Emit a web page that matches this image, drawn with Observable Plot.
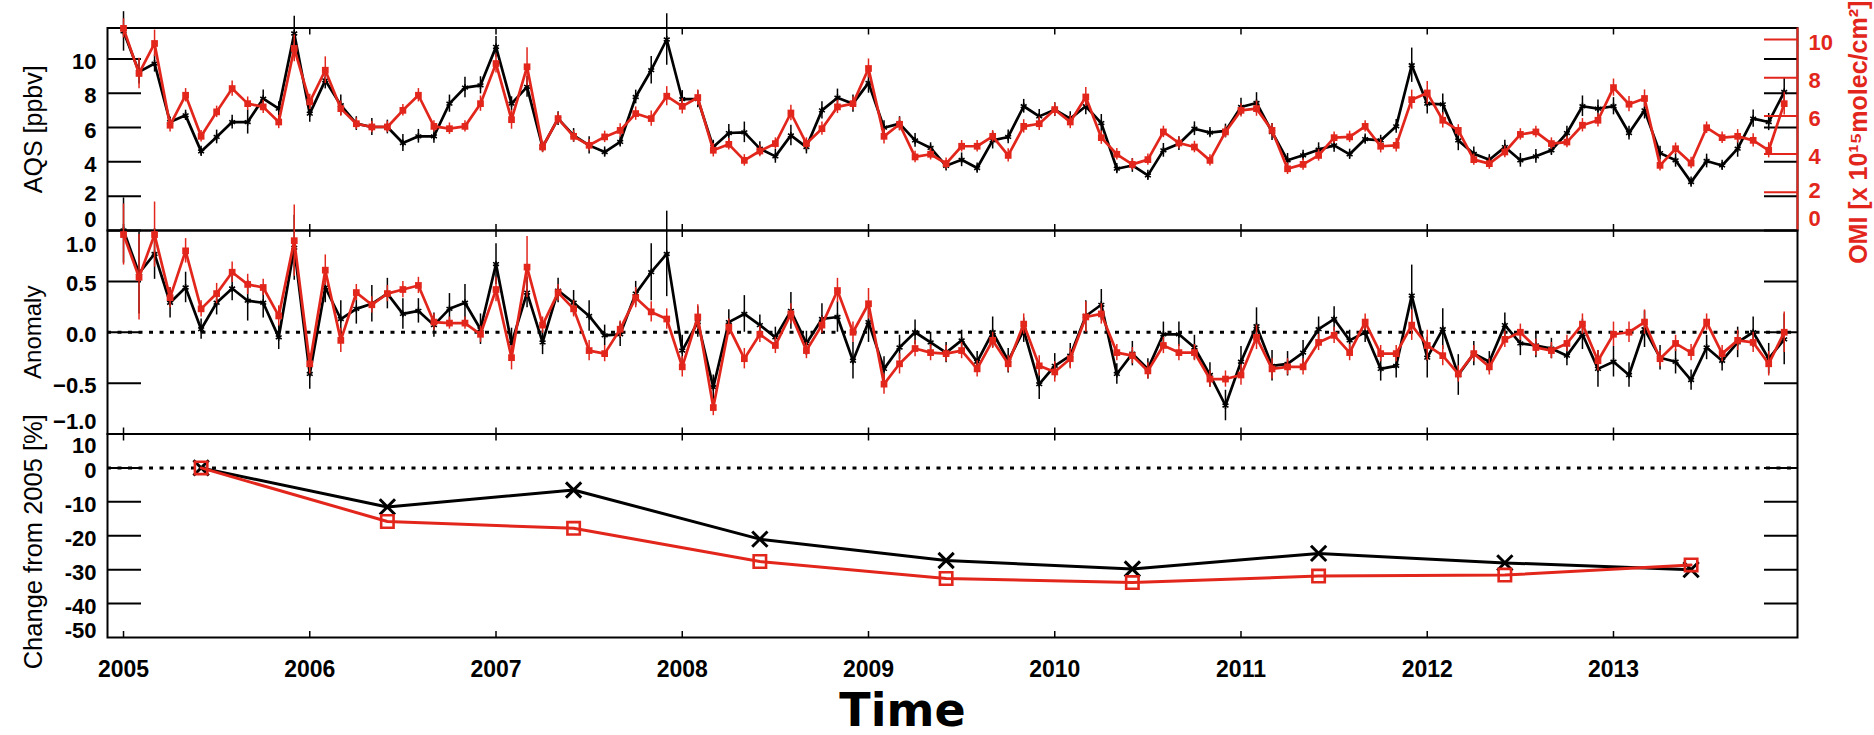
<!DOCTYPE html>
<html><head><meta charset="utf-8">
<script src="https://cdn.jsdelivr.net/npm/d3@7"></script>
<script src="https://cdn.jsdelivr.net/npm/@observablehq/plot@0.6"></script>
<style>
body{margin:0;background:#fff;}
#wrap{position:relative;width:1874px;height:735px;overflow:hidden;background:#fff;}
#wrap svg{position:absolute;left:0;top:0;}
</style></head><body><div id="wrap"></div>
<script>
// ---------- data ----------
const startYear = 2005;
const years = [2005, 2006, 2007, 2008, 2009, 2010, 2011, 2012, 2013];

// monthly AQS NO2 [ppbv] (black) and OMI column [1e15 molec/cm2] (red), Jan 2005 .. Dec 2013
const aqs = [11.6, 9.24, 9.73, 6.32, 6.71, 4.61, 5.45, 6.32, 6.32, 7.68, 7.10, 11.48,
 6.81, 8.75, 7.30, 6.23, 6.03, 6.03, 5.10, 5.49, 5.49, 7.39, 8.33, 8.46,
 10.70, 7.39, 8.37, 4.86, 6.52, 5.54, 4.96, 4.57, 5.16, 7.78, 9.34, 11.13,
 7.65, 7.65, 4.86, 5.68, 5.72, 4.77, 4.32, 5.54, 4.86, 7.00, 7.74, 7.39,
 8.60, 5.99, 6.23, 5.25, 4.81, 3.77, 4.12, 3.64, 5.25, 5.45, 7.24, 6.65,
 7.04, 6.52, 7.24, 6.26, 3.60, 3.79, 3.21, 4.67, 5.06, 5.93, 5.70, 5.80,
 7.20, 7.43, 5.74, 4.09, 4.38, 4.71, 4.96, 4.44, 5.33, 5.25, 6.07, 9.63,
 7.39, 7.35, 5.25, 4.47, 4.12, 4.86, 4.09, 4.32, 4.67, 5.68, 7.24, 7.10,
 7.24, 5.68, 7.00, 4.51, 4.09, 2.82, 4.05, 3.79, 4.77, 6.52, 6.32, 8.07];
const aqsErr = [1.15, 0.7, 0.5, 0.3, 0.3, 0.3, 0.4, 0.4, 0.7, 0.5, 0.4, 1.0,
 0.5, 0.5, 0.6, 0.4, 0.5, 0.4, 0.5, 0.4, 0.4, 0.5, 0.6, 0.5,
 0.6, 0.4, 0.6, 0.3, 0.4, 0.4, 0.5, 0.3, 0.3, 0.4, 0.8, 1.5,
 0.5, 0.5, 0.4, 0.5, 0.6, 0.4, 0.4, 0.6, 0.4, 0.5, 0.5, 0.5,
 0.6, 0.4, 0.4, 0.4, 0.3, 0.3, 0.4, 0.3, 0.5, 0.4, 0.4, 0.4,
 0.4, 0.4, 0.5, 0.5, 0.3, 0.4, 0.3, 0.4, 0.4, 0.4, 0.3, 0.4,
 0.5, 0.6, 0.5, 0.4, 0.3, 0.4, 0.4, 0.3, 0.3, 0.3, 0.4, 1.0,
 0.6, 0.6, 0.6, 0.4, 0.3, 0.4, 0.4, 0.4, 0.3, 0.4, 0.6, 0.5,
 0.5, 0.4, 0.5, 0.4, 0.4, 0.3, 0.4, 0.3, 0.5, 0.5, 0.5, 0.8];
const omi = [10.58, 8.22, 9.79, 5.51, 7.08, 4.93, 6.21, 7.43, 6.64, 6.47, 5.68, 9.53,
 6.73, 8.39, 6.38, 5.59, 5.42, 5.42, 6.29, 7.08, 5.45, 5.33, 5.45, 6.64,
 8.74, 5.80, 8.57, 4.37, 5.86, 4.93, 4.46, 4.90, 5.24, 6.12, 5.86, 7.03,
 6.50, 6.96, 4.20, 4.51, 3.67, 4.16, 4.55, 6.15, 4.55, 5.33, 6.47, 6.64,
 8.48, 4.93, 5.56, 3.85, 3.99, 3.50, 4.41, 4.41, 4.93, 3.93, 5.45, 5.59,
 6.33, 5.68, 6.99, 4.86, 3.99, 3.46, 3.71, 5.16, 4.58, 4.37, 3.67, 5.16,
 6.29, 6.38, 5.24, 3.23, 3.46, 3.93, 4.86, 4.90, 5.45, 4.41, 4.46, 6.85,
 7.20, 5.77, 5.24, 3.71, 3.50, 4.11, 5.03, 5.16, 4.55, 4.63, 5.51, 5.77,
 7.48, 6.61, 6.91, 3.41, 4.28, 3.53, 5.38, 4.86, 4.93, 4.72, 4.20, 6.64];
const omiErr = [0.5, 0.8, 0.7, 0.35, 0.35, 0.3, 0.3, 0.4, 0.35, 0.35, 0.35, 0.7,
 0.4, 0.7, 0.4, 0.3, 0.3, 0.3, 0.3, 0.35, 0.3, 0.3, 0.3, 0.4,
 0.5, 0.5, 1.0, 0.3, 0.3, 0.3, 0.3, 0.3, 0.35, 0.35, 0.4, 0.5,
 0.4, 0.4, 0.35, 0.3, 0.3, 0.3, 0.3, 0.4, 0.3, 0.35, 0.35, 0.35,
 0.5, 0.4, 0.35, 0.3, 0.3, 0.3, 0.3, 0.3, 0.3, 0.35, 0.35, 0.35,
 0.35, 0.35, 0.5, 0.35, 0.3, 0.3, 0.3, 0.3, 0.3, 0.3, 0.3, 0.3,
 0.35, 0.4, 0.35, 0.3, 0.3, 0.3, 0.3, 0.3, 0.3, 0.35, 0.35, 0.5,
 0.6, 0.4, 0.3, 0.3, 0.3, 0.3, 0.3, 0.3, 0.3, 0.3, 0.35, 0.35,
 0.45, 0.4, 0.45, 0.3, 0.3, 0.3, 0.3, 0.3, 0.35, 0.35, 0.4, 0.6];

// monthly anomalies
const aqsAnom = [1.00, 0.58, 0.77, 0.29, 0.44, 0.03, 0.29, 0.43, 0.31, 0.29, -0.05, 0.83,
 -0.41, 0.44, 0.13, 0.23, 0.28, 0.38, 0.18, 0.21, 0.07, 0.23, 0.29, 0.03,
 0.67, -0.11, 0.39, -0.10, 0.41, 0.29, 0.16, -0.03, -0.02, 0.38, 0.59, 0.77,
 -0.18, 0.10, -0.54, 0.10, 0.18, 0.07, -0.05, 0.21, -0.11, 0.13, 0.15, -0.28,
 0.10, -0.36, -0.15, 0.00, -0.10, -0.20, -0.08, -0.29, 0.00, -0.28, 0.02, -0.51,
 -0.33, -0.23, 0.16, 0.27, -0.41, -0.21, -0.36, -0.02, -0.02, -0.15, -0.42, -0.72,
 -0.29, 0.06, -0.33, -0.31, -0.20, 0.03, 0.13, -0.08, 0.00, -0.36, -0.33, 0.36,
 -0.25, 0.03, -0.42, -0.21, -0.29, 0.07, -0.11, -0.13, -0.16, -0.23, -0.02, -0.36,
 -0.29, -0.42, 0.03, -0.25, -0.29, -0.47, -0.15, -0.28, -0.10, 0.00, -0.26, -0.07];
const aqsAnomErr = [0.32, 0.4, 0.25, 0.15, 0.15, 0.1, 0.12, 0.12, 0.2, 0.15, 0.12, 0.32,
 0.15, 0.15, 0.18, 0.15, 0.18, 0.15, 0.15, 0.12, 0.12, 0.15, 0.18, 0.15,
 0.2, 0.15, 0.15, 0.12, 0.12, 0.12, 0.15, 0.1, 0.12, 0.12, 0.28, 0.42,
 0.15, 0.15, 0.12, 0.12, 0.18, 0.1, 0.1, 0.18, 0.12, 0.15, 0.15, 0.18,
 0.2, 0.12, 0.12, 0.12, 0.1, 0.1, 0.1, 0.1, 0.15, 0.12, 0.12, 0.15,
 0.12, 0.12, 0.15, 0.15, 0.1, 0.12, 0.1, 0.12, 0.12, 0.12, 0.12, 0.15,
 0.15, 0.18, 0.15, 0.12, 0.12, 0.12, 0.12, 0.1, 0.1, 0.12, 0.12, 0.3,
 0.2, 0.2, 0.2, 0.12, 0.1, 0.12, 0.12, 0.12, 0.1, 0.1, 0.15, 0.18,
 0.15, 0.12, 0.18, 0.12, 0.12, 0.1, 0.12, 0.1, 0.15, 0.15, 0.15, 0.25];
const omiAnom = [0.96, 0.54, 0.96, 0.34, 0.80, 0.23, 0.38, 0.59, 0.47, 0.44, 0.16, 0.90,
 -0.31, 0.61, -0.08, 0.39, 0.27, 0.38, 0.42, 0.46, 0.10, 0.09, 0.09, -0.02,
 0.42, -0.25, 0.64, 0.07, 0.39, 0.23, -0.18, -0.21, 0.03, 0.34, 0.20, 0.13,
 -0.34, 0.15, -0.74, 0.05, -0.26, -0.02, -0.13, 0.18, -0.18, 0.07, 0.41, 0.00,
 0.28, -0.51, -0.31, -0.16, -0.20, -0.21, -0.18, -0.36, -0.08, -0.31, 0.08, -0.33,
 -0.39, -0.26, 0.15, 0.18, -0.20, -0.23, -0.38, -0.13, -0.20, -0.20, -0.46, -0.46,
 -0.42, -0.05, -0.36, -0.34, -0.34, -0.10, -0.03, -0.20, 0.10, -0.21, -0.21, 0.07,
 -0.13, -0.23, -0.41, -0.21, -0.34, -0.07, 0.00, -0.15, -0.18, -0.11, 0.08, -0.28,
 -0.02, 0.00, 0.10, -0.26, -0.11, -0.20, 0.10, -0.21, -0.08, -0.10, -0.31, 0.00];
const omiAnomErr = [0.3, 0.42, 0.32, 0.1, 0.12, 0.08, 0.1, 0.1, 0.1, 0.08, 0.1, 0.35,
 0.1, 0.15, 0.12, 0.08, 0.08, 0.08, 0.08, 0.08, 0.08, 0.06, 0.06, 0.08,
 0.12, 0.12, 0.3, 0.08, 0.08, 0.08, 0.1, 0.08, 0.08, 0.1, 0.1, 0.1,
 0.1, 0.12, 0.08, 0.08, 0.1, 0.08, 0.08, 0.1, 0.08, 0.08, 0.12, 0.1,
 0.15, 0.1, 0.1, 0.08, 0.08, 0.08, 0.08, 0.08, 0.08, 0.08, 0.1, 0.1,
 0.1, 0.1, 0.15, 0.1, 0.08, 0.08, 0.08, 0.08, 0.08, 0.08, 0.08, 0.08,
 0.1, 0.12, 0.1, 0.08, 0.08, 0.08, 0.08, 0.08, 0.08, 0.08, 0.08, 0.15,
 0.15, 0.1, 0.08, 0.08, 0.08, 0.08, 0.08, 0.08, 0.08, 0.08, 0.1, 0.1,
 0.12, 0.1, 0.12, 0.08, 0.08, 0.08, 0.08, 0.08, 0.1, 0.1, 0.12, 0.2];

// annual change from 2005 [%]
const aqsChange = [0, -11.5, -6.5, -21, -27.3, -29.8, -25.2, -28, -30];
const omiChange = [0, -15.8, -17.8, -27.6, -32.6, -33.8, -31.9, -31.6, -28.6];

// tick labels
const aqsTicks = [0, 2, 4, 6, 8, 10];
const omiTicks = [0, 2, 4, 6, 8, 10];
const anomTicks = [-1, -0.5, 0, 0.5, 1];
const changeTicks = [-50, -40, -30, -20, -10, 0, 10];

// ---------- tables ----------
const monthly = aqs.map((v, i) => ({
  t: startYear + i / 12,
  aqs: v, aqsErr: aqsErr[i], omi: omi[i], omiErr: omiErr[i],
  aqsAnom: aqsAnom[i], aqsAnomErr: aqsAnomErr[i], omiAnom: omiAnom[i], omiAnomErr: omiAnomErr[i]
}));
const annual = years.map((y, i) => ({t: y + 5 / 12, aqs: aqsChange[i], omi: omiChange[i]}));

// ---------- layout ----------
const W = 1874, H = 735, ML = 107, MR = 77;
const RED = "#e2261c";
const xDomain = [2004.914, 2013.988];
const FONT = "'Liberation Sans', Arial, Helvetica, sans-serif";
const wrap = document.getElementById("wrap");

function panel(top, bottom, yDomain, marks) {
  const svg = Plot.plot({
    width: W, height: H,
    marginLeft: ML, marginRight: MR, marginTop: top, marginBottom: H - bottom,
    x: {domain: xDomain, axis: null},
    y: {domain: yDomain, axis: null},
    style: {background: "transparent", overflow: "visible", fontFamily: FONT, color: "black"},
    marks
  });
  wrap.appendChild(svg);
  return svg;
}
const xTickMarks = () => [
  Plot.axisX({ticks: years, anchor: "top", tickSize: 6, dy: 6, fill: "none", label: null, strokeWidth: 1.5}),
  Plot.axisX({ticks: years, anchor: "bottom", tickSize: 6, dy: -6, fill: "none", label: null, strokeWidth: 1.5})
];
const yInTicks = (ticks, stroke = "black", sides = ["left", "right"]) => sides.map(s =>
  Plot.axisY({ticks, anchor: s, tickSize: 34, dx: s === "left" ? 34 : -34, fill: "none", label: null, stroke, strokeWidth: 2}));
const yLabels = (ticks, fmt, dy, anchor = "left", fill = "black") =>
  Plot.axisY({ticks, anchor, tickSize: 0, tickPadding: 11, dy, tickFormat: fmt,
    fontSize: 22, fontWeight: "bold", label: null, fill, textAnchor: anchor === "left" ? "end" : "start"});
const yTitle = (text, {dx = -74, dy = 0, fill = "black", fontSize = 24, fontWeight = "normal"} = {}) =>
  Plot.text([text], {frameAnchor: dx < 0 ? "left" : "right", dx, dy, rotate: -90, textAnchor: "middle",
    lineAnchor: "middle", fontSize, fontWeight, fill, text: d => d});

// ---------- panel 1: AQS (left axis) ----------
panel(27.5, 230, [0, 11.8], [
  Plot.frame({stroke: "black", strokeWidth: 2}),
  ...xTickMarks(),
  ...yInTicks(aqsTicks),
  yLabels(aqsTicks.filter(d => d > 2), d => String(d), 3),
  yLabels([2], d => String(d), -2),
  yLabels([0], d => String(d), -11),
  yTitle("AQS [ppbv]", {fontSize: 25}),
  Plot.ruleX(monthly, {x: "t", y1: d => d.aqs - d.aqsErr, y2: d => d.aqs + d.aqsErr, stroke: "black", strokeWidth: 1.5}),
  Plot.line(monthly, {x: "t", y: "aqs", stroke: "black", strokeWidth: 2.7}),
  Plot.dot(monthly, {x: "t", y: "aqs", symbol: "asterisk", r: 3.2, stroke: "black", strokeWidth: 1.6})
]);

// ---------- panel 1 overlay: OMI (right axis) ----------
panel(27.5, 230, [0, 10.6], [
  Plot.ruleX([xDomain[1]], {stroke: RED, strokeWidth: 2}),
  ...yInTicks(omiTicks.filter(d => d > 0), RED, ["right"]),
  yLabels(omiTicks.filter(d => d > 2), d => String(d), 3, "right", RED),
  yLabels([2], d => String(d), -1, "right", RED),
  yLabels([0], d => String(d), -12, "right", RED),
  yTitle("OMI [x 10\u00B9\u2075molec/cm\u00B2]", {dx: 61, dy: 3, fill: RED, fontSize: 25, fontWeight: "bold"}),
  Plot.ruleX(monthly, {x: "t", y1: d => d.omi - d.omiErr, y2: d => d.omi + d.omiErr, stroke: RED, strokeWidth: 1.5}),
  Plot.line(monthly, {x: "t", y: "omi", stroke: RED, strokeWidth: 2.7}),
  Plot.dot(monthly, {x: "t", y: "omi", symbol: "square", r: 3.8, fill: RED})
]);

// ---------- panel 2: anomaly ----------
panel(230, 433.5, [-1, 1], [
  Plot.frame({stroke: "black", strokeWidth: 2}),
  ...xTickMarks(),
  ...yInTicks(anomTicks.filter(d => Math.abs(d) < 1)),
  yLabels(anomTicks.filter(d => Math.abs(d) < 1), d3.format(".1f"), 3),
  yLabels([1], d3.format(".1f"), 14),
  yLabels([-1], d3.format(".1f"), -12),
  yTitle("Anomaly", {fontSize: 24}),
  Plot.ruleY([0], {stroke: "black", strokeWidth: 3, strokeDasharray: "4,6.5"}),
  Plot.ruleX(monthly, {x: "t", y1: d => d.aqsAnom - d.aqsAnomErr, y2: d => d.aqsAnom + d.aqsAnomErr, stroke: "black", strokeWidth: 1.5}),
  Plot.line(monthly, {x: "t", y: "aqsAnom", stroke: "black", strokeWidth: 2.7}),
  Plot.dot(monthly, {x: "t", y: "aqsAnom", symbol: "asterisk", r: 3.2, stroke: "black", strokeWidth: 1.6}),
  Plot.ruleX(monthly, {x: "t", y1: d => d.omiAnom - d.omiAnomErr, y2: d => d.omiAnom + d.omiAnomErr, stroke: RED, strokeWidth: 1.5}),
  Plot.line(monthly, {x: "t", y: "omiAnom", stroke: RED, strokeWidth: 2.7}),
  Plot.dot(monthly, {x: "t", y: "omiAnom", symbol: "square", r: 3.8, fill: RED})
]);

// ---------- panel 3: change from 2005 ----------
panel(433.5, 637, [-50, 10], [
  Plot.frame({stroke: "black", strokeWidth: 2}),
  ...xTickMarks(),
  ...yInTicks(changeTicks.filter(d => d > -50 && d < 10)),
  yLabels(changeTicks.filter(d => d > -50 && d < 10), d => String(d), 3),
  yLabels([10], d => String(d), 12),
  yLabels([-50], d => String(d), -7),
  yTitle("Change from 2005 [%]", {fontSize: 25.5, dy: 6}),
  Plot.axisX({ticks: years, anchor: "bottom", tickSize: 0, tickPadding: 23, tickFormat: d => String(d),
    fontSize: 23, fontWeight: "bold", label: null}),
  Plot.text(["Time"], {frameAnchor: "bottom", dx: -50, dy: 88, fontSize: 46, fontWeight: "bold",
    fontFamily: "'DejaVu Sans', sans-serif", text: d => d}),
  Plot.ruleY([0], {stroke: "black", strokeWidth: 3, strokeDasharray: "4,6.5"}),
  Plot.line(annual, {x: "t", y: "aqs", stroke: "black", strokeWidth: 3}),
  Plot.dot(annual, {x: "t", y: "aqs", symbol: "times", r: 7, stroke: "black", strokeWidth: 3}),
  Plot.line(annual, {x: "t", y: "omi", stroke: RED, strokeWidth: 3}),
  Plot.dot(annual, {x: "t", y: "omi", symbol: "square", r: 7, stroke: RED, fill: "none", strokeWidth: 2.6})
]);
</script>
</body></html>
